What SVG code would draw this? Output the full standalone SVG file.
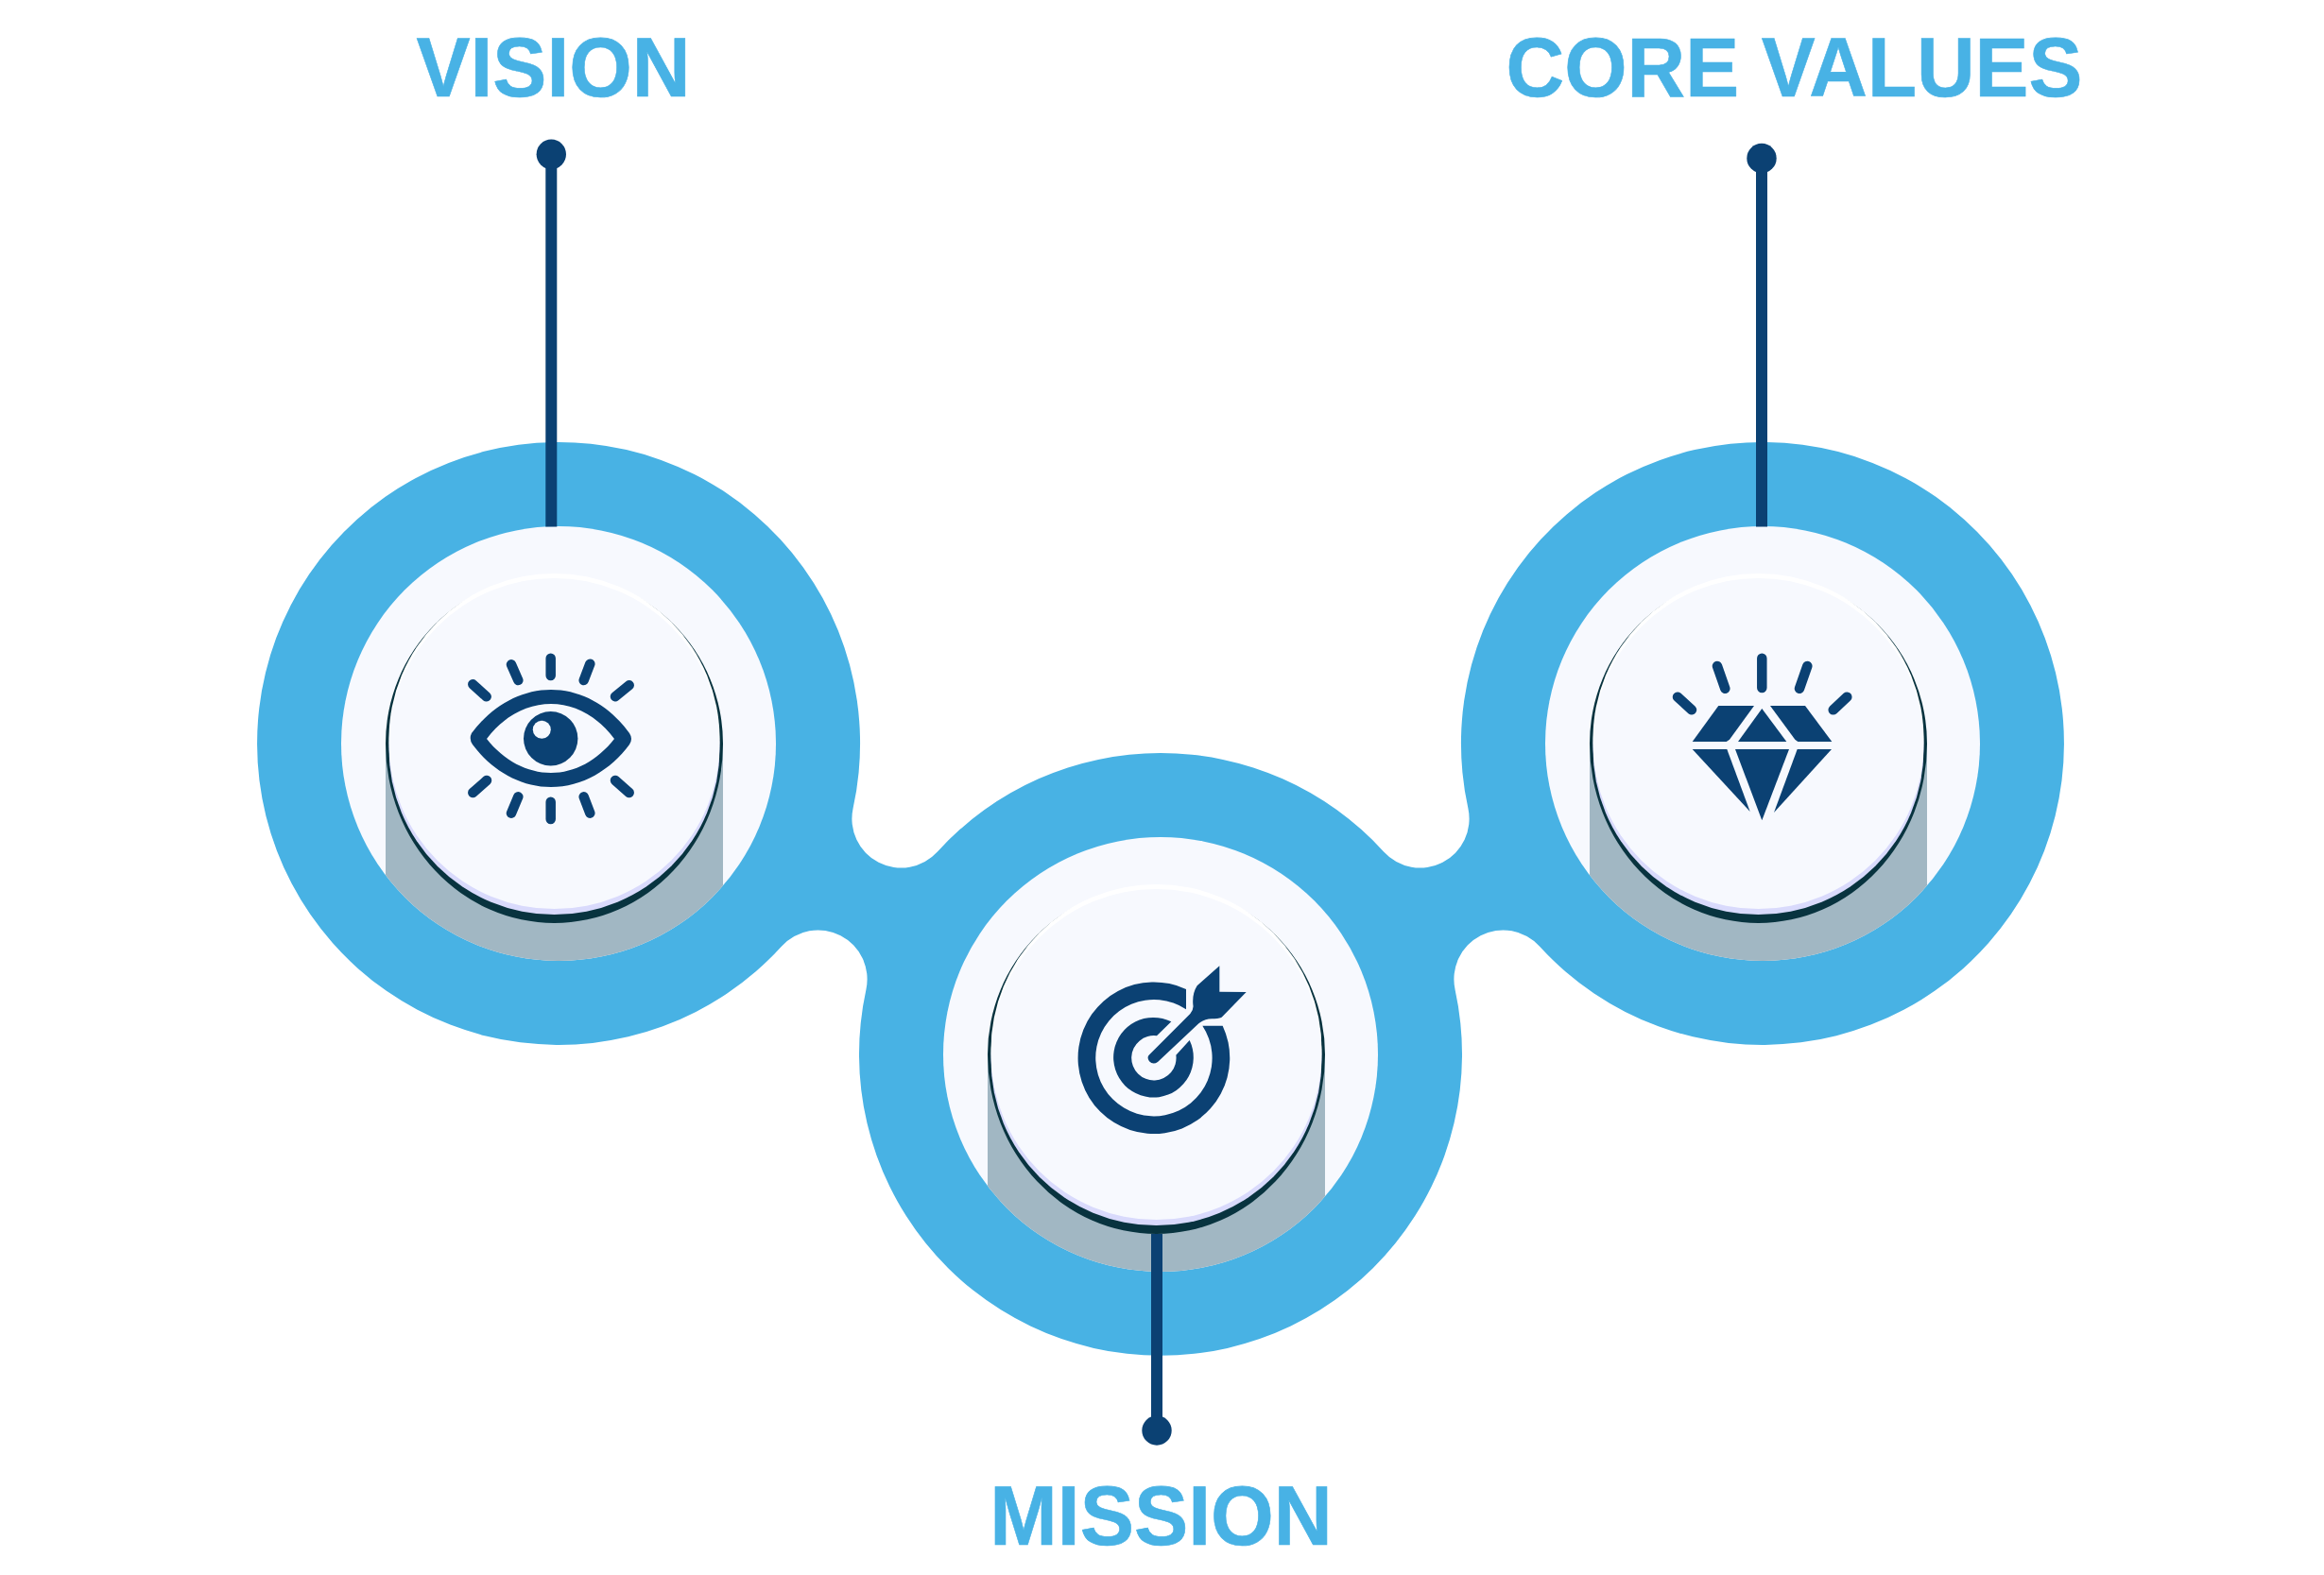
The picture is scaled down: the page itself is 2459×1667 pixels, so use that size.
<svg xmlns="http://www.w3.org/2000/svg" width="2459" height="1667" viewBox="0 0 2459 1667">
<style>
.lbl{font-family:"Liberation Sans",Arial,sans-serif;font-weight:700;font-size:88.500px;fill:#48b2e5;stroke:#48b2e5;stroke-width:.6;text-anchor:middle}
.ink{fill:#0b4173}
.ray{stroke:#0b4173;stroke-width:10.500;stroke-linecap:round;fill:none}
.conn{stroke:#0b4173;stroke-width:12;fill:none}
.dot{fill:#0b4173}
</style>
<defs>
<clipPath id="discClip"><circle cx="0" cy="0" r="230"/></clipPath>
<g id="button">
<circle r="230" fill="#f7f9fe"/>
<rect x="-183" y="0" width="357" height="240" fill="#a1b7c3" clip-path="url(#discClip)"/>
<path d="M-183 0A178.500 178.500 0 0 1 174 0A178.500 190 0 0 1 -183 0Z" fill="#08333f"/>
<circle cx="-4.500" cy="-5" r="175" fill="#ffffff"/>
<circle cx="-4.500" cy="6" r="175" fill="#d9dafc"/>
<circle cx="-4.500" cy="0" r="175" fill="#f7f9fe"/>
</g>
</defs>
<rect width="2459" height="1667" fill="#ffffff"/>
<path id="blob" fill="#48b2e4" d="M902.600 855.500A52 52 0 0 0 991.900 901.500A319 319 0 0 1 1464.100 901.500A52 52 0 0 0 1553.400 855.500A319 319 0 1 1 1628.900 1001.500A52 52 0 0 0 1539.600 1047.500A319 319 0 1 1 916.400 1047.500A52 52 0 0 0 827.100 1001.500A319 319 0 1 1 902.600 855.500Z"/>
<g id="vision">
<use href="#button" transform="translate(591 787)"/>
<path class="ink" fill-rule="evenodd" d="M499 776C520 748 550 730 583 730C616 730 646 748 666 776Q670 782 666 788C646 815 616 833 583 833C550 833 520 815 500 788Q496 782 499 776ZM515 782C533 805 558 818 583 818C608 818 632 805 650 782C632 758 608 745 583 745C558 745 533 758 515 782Z"/>
<circle class="ink" cx="582.700" cy="781.700" r="28.700"/>
<circle cx="573.300" cy="772.300" r="9.500" fill="#f7f9fe"/>
<path class="ray" d="M582.700 696.700V715M541 703.300L548.300 720M624.300 702.700L617.700 720M500.300 724.300L514.700 737.300M665.700 725.300L651 737.300M515 826L500.300 839M651 826L665.700 839M548.300 843.300L541 860.700M617.700 843.300L624.300 860.700M582.700 848.700V867"/>
<text class="lbl" transform="translate(585.500 102) scale(.967 1)">VISION</text>
</g>
<g id="mission">
<use href="#button" transform="translate(1228 1116)"/>
<g class="ink" transform="translate(1100 1000) scale(.33333)">
<path d="M465 141A241 241 0 1 0 581 257L517 257A185 185 0 1 1 465 205Z"/>
<path d="M418 244A127 127 0 1 0 476 303L433 350A71 71 0 1 1 372 289Z"/>
<path d="M347 350L478 219Q490 205 487 190Q484 155 500 130L571 67L571 149L656 150L580 228Q575 234 555 235Q525 232 505 250L375 372Q360 382 348 370Q340 358 347 350Z"/>
</g>
<text class="lbl" transform="translate(1228.500 1635) scale(.97 1)">MISSION</text>
</g>
<g id="core-values">
<use href="#button" transform="translate(1865 787)"/>
<path class="ray" d="M1864.300 696.700V728M1817 705L1825.300 728.700M1912.300 705L1904 728.700M1775 737.700L1790 751.300M1954.300 737.700L1939.700 751.300"/>
<g class="ink">
<path d="M1818.300 747H1856L1830 782.700L1826.700 785H1790.700Z"/>
<path d="M1864.300 750L1890.300 785H1839Z"/>
<path d="M1873 747H1910L1938.300 785H1902.300L1899.300 782.700Z"/>
<path d="M1790.700 793H1827.300L1851.700 859Z"/>
<path d="M1836 793H1893L1864.300 868.300Z"/>
<path d="M1901.700 793H1938L1877 860Z"/>
</g>
<text class="lbl" transform="translate(1898.500 102) scale(.964 1)">CORE VALUES</text>
</g>
<g id="connectors">
<path class="conn" d="M583.300 163V557.500"/>
<circle class="dot" cx="583.300" cy="163.300" r="15.700"/>
<path class="conn" d="M1864 167V557.500"/>
<circle class="dot" cx="1864" cy="167.500" r="15.700"/>
<path class="conn" d="M1224 1306V1514"/>
<circle class="dot" cx="1224" cy="1514" r="15.700"/>
</g>
</svg>
